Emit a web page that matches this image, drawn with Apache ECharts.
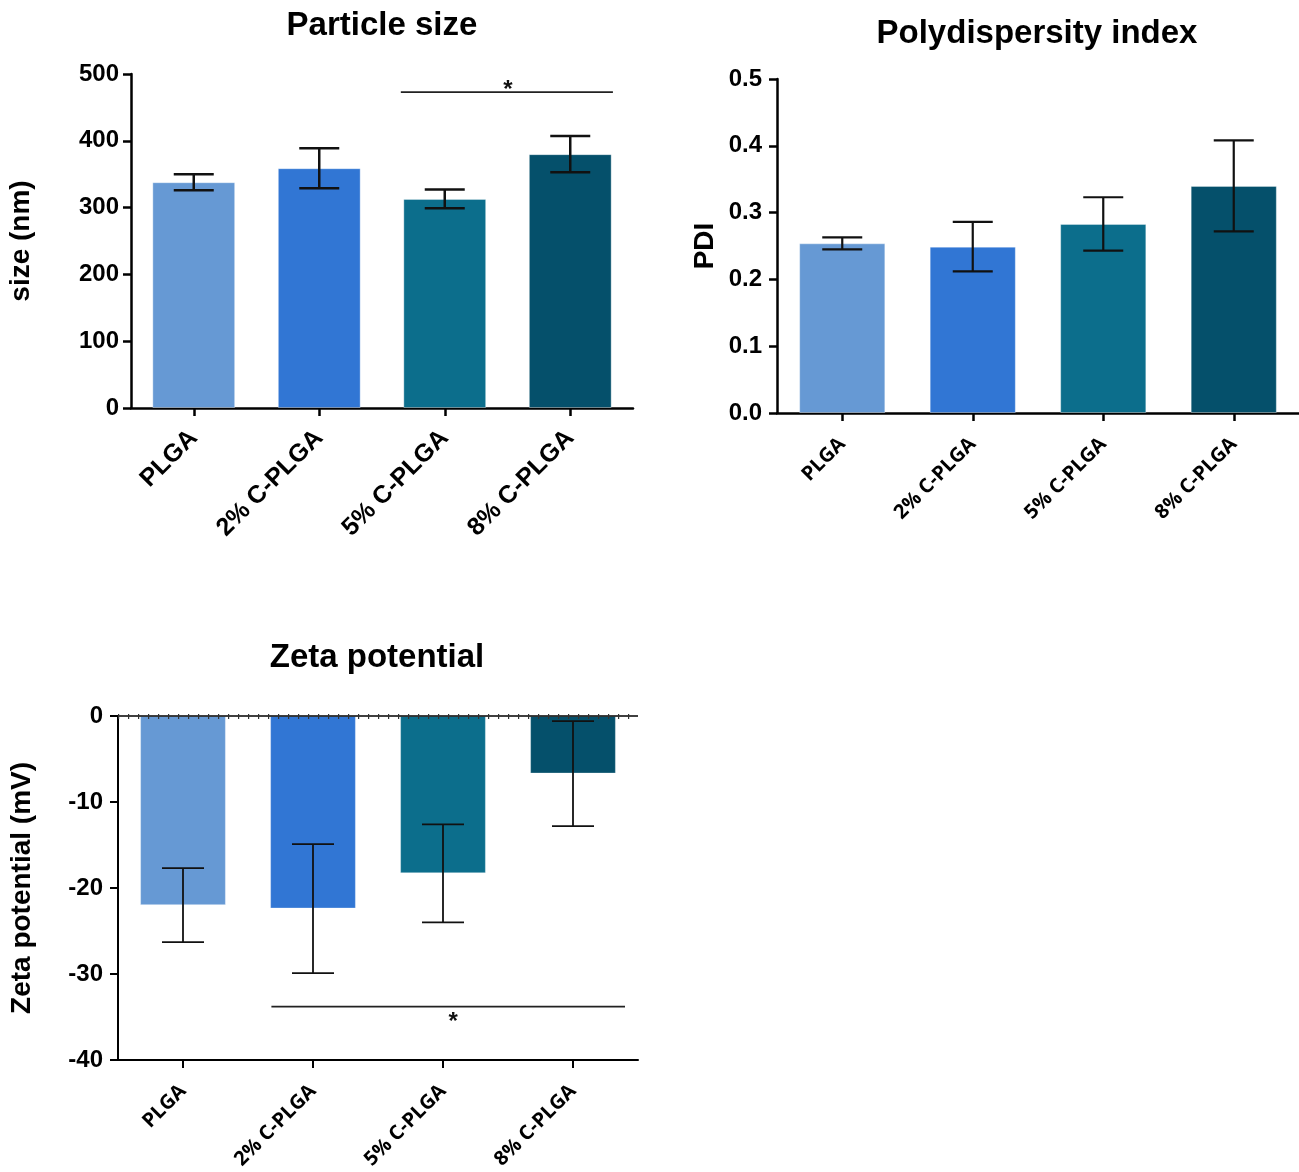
<!DOCTYPE html>
<html>
<head>
<meta charset="utf-8">
<script src="https://cdn.jsdelivr.net/npm/echarts@6/dist/echarts.min.js"></script>
<style>
html,body{margin:0;padding:0;background:#fff;}
#c{width:1299px;height:1172px;}
</style>
</head>
<body>
<div id="c"></div>
<script>
// ---- data ----
const categories = ['PLGA', '2% C-PLGA', '5% C-PLGA', '8% C-PLGA'];
const barColors = ['#6699D4', '#3176D4', '#0C6E8C', '#05506B'];

const sizeMean = [338, 359, 313, 380];
const sizeErr = [12, 30, 14, 27];

const pdiMean = [0.254, 0.249, 0.283, 0.340];
const pdiErr = [0.009, 0.037, 0.040, 0.068];

const zetaMean = [-22.0, -22.4, -18.3, -6.7];
const zetaErr = [4.3, 7.5, 5.7, 6.1];

// significance brackets: [start position, end position (fractional category index), y value]
const sizeSig = [1.65, 3.34, 473];
const zetaSig = [0.68, 3.40, -33.8];

const FONT = '"Liberation Sans", Arial, sans-serif';
const FONT2 = '"Open Sans", "Liberation Sans", sans-serif';

function barData(vals) {
  return vals.map((v, i) => ({ value: v, itemStyle: { color: barColors[i] } }));
}
function errData(mean, err) {
  return mean.map((m, i) => [i, m, err[i]]);
}
function errRender(capHalf, lw) {
  return function (params, api) {
    const i = api.value(0), m = api.value(1), e = api.value(2);
    const top = api.coord([i, m + e]);
    const bot = api.coord([i, m - e]);
    const x = top[0];
    const style = { stroke: '#111', lineWidth: lw };
    return {
      type: 'group',
      children: [
        { type: 'line', shape: { x1: x, y1: top[1], x2: x, y2: bot[1] }, style },
        { type: 'line', shape: { x1: x - capHalf, y1: top[1], x2: x + capHalf, y2: top[1] }, style },
        { type: 'line', shape: { x1: x - capHalf, y1: bot[1], x2: x + capHalf, y2: bot[1] }, style }
      ]
    };
  };
}
function sigRender(lw, above) {
  return function (params, api) {
    const s = api.value(0), e = api.value(1), y = api.value(2);
    const p0 = api.coord([0, y]);
    const band = api.size([1, 0])[0];
    const x1 = p0[0] + s * band, x2 = p0[0] + e * band;
    return {
      type: 'group',
      children: [
        { type: 'line', shape: { x1: x1, y1: p0[1], x2: x2, y2: p0[1] }, style: { stroke: '#222', lineWidth: lw } },
        { type: 'text', x: (x1 + x2) / 2 + (above ? 1 : 5), y: above ? p0[1] + 10 : p0[1] + 4,
          style: { text: '*', fill: '#111', font: 'bold 24px ' + FONT, textAlign: 'center', textVerticalAlign: above ? 'bottom' : 'top' } }
      ]
    };
  };
}

const chart = echarts.init(document.getElementById('c'), null, { renderer: 'canvas' });

function xAxisCfg(gi, fontFamily, fontSize, margin, lw) {
  return {
    type: 'category', gridIndex: gi, data: categories,
    axisLine: { onZero: false, lineStyle: { color: '#000', width: lw } },
    axisTick: { show: true, alignWithLabel: true, length: 8, lineStyle: { color: '#000', width: lw } },
    axisLabel: { rotate: 45, margin: margin, color: '#000', fontFamily: fontFamily, fontWeight: 'bold', fontSize: fontSize, interval: 0 }
  };
}
function yAxisCfg(gi, min, max, interval, name, nameGap, fontSize, lw, margin, fmt) {
  return {
    type: 'value', gridIndex: gi, min: min, max: max, interval: interval,
    name: name, nameLocation: 'middle', nameGap: nameGap, nameRotate: 90,
    nameTextStyle: { color: '#000', fontFamily: FONT, fontWeight: 'bold', fontSize: 28 },
    axisLine: { show: true, lineStyle: { color: '#000', width: lw } },
    axisTick: { show: true, length: 8, lineStyle: { color: '#000', width: lw } },
    splitLine: { show: false },
    axisLabel: { color: '#000', fontFamily: FONT, fontWeight: 'bold', fontSize: fontSize, margin: margin, formatter: fmt }
  };
}

const option = {
  backgroundColor: '#fff',
  animation: false,
  title: [
    { text: 'Particle size', left: 377, top: 4, textAlign: 'center', textStyle: { fontFamily: FONT, fontWeight: 'bold', fontSize: 33, color: '#000' } },
    { text: 'Polydispersity index', left: 1032, top: 12, textAlign: 'center', textStyle: { fontFamily: FONT, fontWeight: 'bold', fontSize: 33, color: '#000' } },
    { text: 'Zeta potential', left: 372, top: 636, textAlign: 'center', textStyle: { fontFamily: FONT, fontWeight: 'bold', fontSize: 33, color: '#000' } }
  ],
  grid: [
    { left: 131, top: 74, width: 502, height: 334 },
    { left: 777, top: 79, width: 522, height: 334 },
    { left: 118, top: 716, width: 520, height: 344 }
  ],
  xAxis: [
    xAxisCfg(0, FONT, 25, 26, 2.5),
    xAxisCfg(1, FONT2, 20, 28, 2.5),
    xAxisCfg(2, FONT2, 20, 28, 2)
  ],
  yAxis: [
    yAxisCfg(0, 0, 500, 100, 'size (nm)', 96, 24, 2.5, 12, null),
    yAxisCfg(1, 0, 0.5, 0.1, 'PDI', 58, 24, 2.5, 15, v => v.toFixed(1)),
    yAxisCfg(2, -40, 0, 10, 'Zeta potential (mV)', 82, 24, 2, 15, null)
  ],
  series: [
    { type: 'bar', xAxisIndex: 0, yAxisIndex: 0, data: barData(sizeMean), barWidth: '66%',
      itemStyle: { borderColor: 'rgba(255,255,255,0.35)', borderWidth: 1 } },
    { type: 'custom', xAxisIndex: 0, yAxisIndex: 0, data: errData(sizeMean, sizeErr), renderItem: errRender(20, 2.5), z: 5 },
    { type: 'custom', xAxisIndex: 0, yAxisIndex: 0, data: [sizeSig], renderItem: sigRender(1.8, true), z: 5 },

    { type: 'bar', xAxisIndex: 1, yAxisIndex: 1, data: barData(pdiMean), barWidth: '66%',
      itemStyle: { borderColor: 'rgba(255,255,255,0.35)', borderWidth: 1 } },
    { type: 'custom', xAxisIndex: 1, yAxisIndex: 1, data: errData(pdiMean, pdiErr), renderItem: errRender(20, 2.2), z: 5 },

    { type: 'bar', xAxisIndex: 2, yAxisIndex: 2, data: barData(zetaMean), barWidth: '66%',
      itemStyle: { borderColor: 'rgba(255,255,255,0.35)', borderWidth: 1 },
      markLine: {
        silent: true, symbol: 'none', label: { show: false },
        data: [
          { yAxis: 0, lineStyle: { color: '#000', width: 1.5, type: 'solid' } },
          { yAxis: 0, lineStyle: { color: '#333', width: 5, type: [1.2, 8.8] } }
        ]
      } },
    { type: 'custom', xAxisIndex: 2, yAxisIndex: 2, data: errData(zetaMean, zetaErr), renderItem: errRender(21, 1.8), z: 5 },
    { type: 'custom', xAxisIndex: 2, yAxisIndex: 2, data: [zetaSig], renderItem: sigRender(1.8, false), z: 5 }
  ]
};
chart.setOption(option);
</script>
</body>
</html>
